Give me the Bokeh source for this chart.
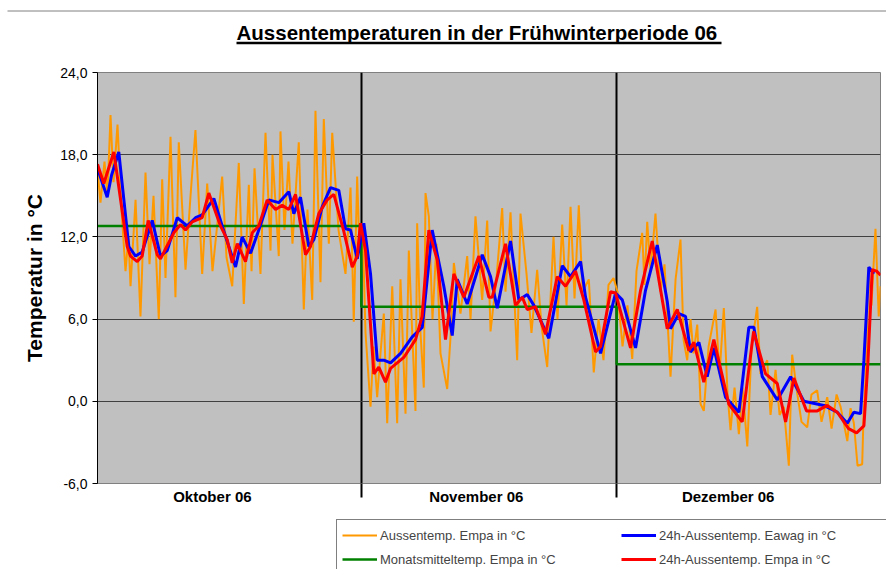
from bokeh.plotting import figure
from bokeh.layouts import column
from bokeh.models import Range1d, FixedTicker, Legend, LegendItem, Label
from bokeh.embed import file_html
from bokeh.resources import INLINE

# ---------------- data (day since 1 Oct 2006, temperature in °C) ----------------
empa_day = [0.00, 0.35, 0.82, 1.17, 1.53, 1.88, 2.35, 2.82, 3.29, 3.64,
            3.88, 4.47, 5.05, 5.64, 6.11, 6.58, 7.20, 7.60, 7.99, 8.58,
            9.16, 9.55, 10.34, 10.93, 11.51, 12.30, 12.89, 13.51, 14.65, 15.16,
            15.83, 16.60, 17.19, 17.78, 18.10, 18.45, 19.15, 19.74, 20.33, 20.56,
            21.30, 21.50, 21.97, 22.44, 22.91, 23.65, 24.24, 24.67, 25.23, 25.61,
            26.20, 26.59, 27.18, 27.58, 28.32, 29.14, 29.73, 30.11, 30.51, 30.78,
            31.14, 31.49, 32.08, 32.43, 32.86, 33.25, 33.64, 34.04, 34.63, 35.21,
            35.60, 36.19, 36.58, 37.36, 37.56, 37.95, 38.34, 38.54, 38.93, 39.36,
            39.83, 40.30, 41.09, 41.48, 41.87, 42.65, 43.44, 43.83, 44.41, 45.20,
            45.79, 46.18, 46.88, 47.55, 47.94, 48.53, 49.31, 49.70, 50.41, 50.99,
            51.66, 52.17, 52.84, 53.58, 54.05, 54.60, 55.11, 55.58, 56.05, 56.55,
            56.99, 57.73, 58.31, 58.87, 59.45, 60.04, 60.63,
            61.10, 61.69, 62.27, 62.83, 63.33, 64.00, 64.27, 64.59, 64.98, 65.56,
            66.15, 66.62, 67.33, 67.92, 68.50, 68.86, 69.29, 69.68, 70.03, 70.47,
            70.86, 71.24, 71.80, 72.62, 73.09, 73.59, 74.03, 74.38, 74.85, 75.36,
            75.79, 76.35, 76.85, 77.51, 77.90, 78.69, 79.08, 79.67, 80.14, 80.64,
            81.23, 81.62, 82.21, 82.72, 83.39, 83.89, 84.56, 85.07, 85.74, 86.25,
            86.84, 87.31, 88.10, 88.48, 88.87, 89.30, 89.85, 90.01, 90.24, 90.62,
            90.94, 91.41, 91.79, 92.00]
empa_temp = [16.9, 14.5, 17.5, 15.0, 20.9, 16.0, 20.2, 14.0, 9.5, 12.0,
             8.4, 14.7, 6.2, 16.7, 10.0, 15.0, 6.0, 16.2, 9.0, 19.3,
             7.6, 18.9, 9.6, 15.0, 19.8, 9.3, 15.9, 9.5, 16.4, 10.5,
             8.4, 17.4, 7.1, 15.8, 9.5, 17.0, 9.3, 19.6, 11.0, 18.0,
             10.6, 19.7, 12.5, 17.5, 11.5, 18.9, 6.7, 14.0, 7.4, 21.2,
             8.7, 20.6, 11.5, 19.6, 12.5, 9.3, 15.6, 5.8, 16.4, 11.0,
             13.0, 5.0, -0.4, 4.0, 0.3, 3.5, 6.4, -1.6, 8.4, -1.6,
             8.9, -0.9, 11.0, -0.7, 13.0, 5.0, 1.0, 15.2, 13.5, 6.0,
             11.5, 3.5, 0.9, 4.7, 10.1, 6.4, 10.6, 6.0, 13.5, 7.4,
             13.2, 5.1, 9.0, 14.1, 8.0, 13.8, 3.0, 13.7, 9.3, 5.0,
             9.6, 5.5, 2.5, 12.0, 6.0, 12.9, 7.0, 14.2, 7.5, 14.3,
             8.0, 8.9, 2.1, 6.0, 3.0, 8.5, 9.0,
             8.0, 4.0, 7.0, 3.1, 9.5, 12.3, 8.5, 13.1, 9.5, 13.7,
             8.0, 10.0, 1.8, 8.9, 11.8, 4.5, 3.0, 6.0, 3.5, 5.6,
             -0.2, -0.7, 4.0, 6.7, 2.0, 6.8, 0.5, -2.1, 1.0, -2.4,
             1.0, -3.3, 4.0, 6.9, 2.0, 3.0, -1.0, 2.3, -1.0, -0.4,
             -4.7, 3.4, 0.6, -1.5, -1.9, 0.5, 0.8, -1.5, 0.3, -2.0,
             0.5, -0.4, -2.9, -0.5, -1.6, -4.7, -4.6, -1.0, 1.5, 9.8,
             7.0, 12.6, 6.2, 8.4]

eawag24_day = [0, 1.14, 1.65, 2.50, 3.68, 4.47, 5.25, 6.43, 7.40, 8.19,
               9.37, 10.54, 11.52, 12.30, 13.67, 14.65, 16.22, 17.00, 17.98, 18.95,
               20.13, 21.30, 22.48, 23.07, 23.85, 24.83, 25.42, 26.40, 27.38, 28.35,
               29.14, 29.73, 30.52, 31.29, 32.08, 32.87, 33.64, 34.43, 35.61, 36.98,
               38.16, 39.33, 40.69, 41.68, 42.27, 43.44, 45.21, 46.18, 46.97, 48.53,
               49.51, 50.49, 51.27, 53.03, 54.61, 55.58, 56.76, 57.34, 59.11, 60.87,
               61.66, 63.22, 64.39, 65.77, 66.94, 67.33, 68.31, 69.09, 69.68, 70.66,
               71.64, 72.42, 73.79, 75.36, 76.53, 77.12, 78.11, 79.87, 81.44, 83.00,
               85.35, 86.92, 88.10, 88.87, 89.66, 90.05, 90.63, 91.22]
eawag24_temp = [17.0, 14.9, 16.5, 18.2, 11.3, 10.6, 10.9, 13.2, 10.6, 11.0,
                13.4, 12.8, 13.4, 13.6, 14.8, 12.8, 9.8, 12.0, 10.8, 12.5,
                14.7, 14.5, 15.3, 13.7, 14.9, 11.3, 11.8, 14.2, 15.6, 15.4,
                12.6, 12.5, 10.4, 13.0, 9.3, 3.0, 3.0, 2.8, 3.5, 4.7,
                5.4, 12.5, 8.4, 4.8, 8.9, 7.1, 10.7, 9.1, 6.8, 11.7,
                7.4, 7.8, 7.0, 4.6, 9.9, 9.1, 10.2, 7.6, 3.5, 7.9,
                7.4, 3.9, 8.1, 11.4, 7.3, 5.3, 6.4, 6.2, 3.6, 4.3,
                1.8, 3.9, 0.3, -0.8, 5.4, 5.4, 1.8, 0.1, 1.8, 0.0,
                -0.3, -0.8, -1.6, -0.8, -0.9, 3.0, 9.8, 9.3]

empa24_day = [0.0, 0.74, 1.92, 3.49, 3.88, 4.67, 5.25, 5.96, 7.02, 7.40,
              8.97, 9.75, 10.34, 11.13, 12.30, 13.08, 14.45, 15.24, 15.83, 16.42,
              17.39, 18.18, 18.95, 19.94, 20.92, 21.70, 22.48, 23.27, 24.44, 25.03,
              26.00, 26.99, 27.77, 28.94, 29.93, 30.52, 30.90, 31.49, 31.88, 32.47,
              33.05, 33.84, 34.43, 35.99, 37.37, 38.14, 38.93, 39.92, 40.89, 41.87,
              43.04, 44.81, 45.98, 46.38, 47.94, 49.12, 49.91, 50.49, 51.47, 52.64,
              54.02, 54.99, 56.17, 57.14, 58.52, 59.11, 60.28, 60.87, 62.63, 63.81,
              65.18, 66.94, 68.12, 69.48, 70.07, 71.24, 72.42, 74.18, 75.75, 77.09,
              78.50, 79.87, 80.85, 81.82, 83.31, 84.57, 85.74, 86.92, 88.25, 89.19,
              90.05, 90.52, 91.03, 91.54, 92.0]
empa24_temp = [17.3, 15.9, 18.2, 11.3, 10.6, 10.2, 10.6, 13.2, 10.7, 10.4,
               12.3, 12.9, 12.5, 13.1, 13.4, 15.2, 12.8, 11.8, 10.1, 11.5,
               10.2, 12.3, 12.8, 14.7, 14.0, 14.3, 14.0, 15.1, 10.7, 11.3,
               13.7, 14.7, 15.1, 12.4, 9.8, 10.6, 13.0, 11.0, 7.4, 2.0,
               2.5, 1.4, 2.4, 3.2, 4.5, 6.2, 12.5, 10.3, 4.5, 9.3,
               7.6, 10.6, 7.6, 7.6, 11.5, 7.0, 7.6, 6.7, 6.9, 4.9,
               9.1, 8.4, 9.5, 7.4, 3.6, 4.0, 8.0, 7.9, 3.9, 8.1,
               11.7, 5.3, 6.7, 3.7, 4.3, 1.4, 4.5, -0.2, -1.5, 5.1,
               2.0, 1.3, -1.5, 1.7, -0.7, -0.7, -0.3, -0.8, -2.0, -2.3,
               -1.8, 2.8, 9.6, 9.5, 9.2]

month_start = [0, 31, 61]
month_end = [31, 61, 92]
month_mean = [12.8, 6.9, 2.7]
month_labels = ["Oktober 06", "November 06", "Dezember 06"]
month_label_pos = [13.5, 44.5, 74.1]
month_bounds = [31, 61]
y_ticks = [-6, 0, 6, 12, 18, 24]

TITLE = "Aussentemperaturen in der Frühwinterperiode 06"
FONT = "Liberation Sans"
W = 886

# monthly mean as a step line
mean_x, mean_y = [], []
for s, e, m in zip(month_start, month_end, month_mean):
    mean_x += [s, e]
    mean_y += [m, m]

# ---------------- header strip: title with underline, chart border ----------------
head = figure(width=W, height=62, x_range=Range1d(0, W), y_range=Range1d(62, 0),
              x_axis_type=None, y_axis_type=None, output_backend="svg",
              toolbar_location=None, title=None, min_border=0, frame_align=False,
              outline_line_color=None, background_fill_color="white",
              border_fill_color="white")
head.add_layout(Label(x=236, y=32, text=TITLE, text_font=FONT, text_font_size="20.5px",
                      text_font_style="bold", text_color="black",
                      text_baseline="alphabetic", text_align="left"))
head.segment(x0=[236], y0=[42.5], x1=[721], y1=[42.5], line_color="black", line_width=2.5)
head.segment(x0=[7], y0=[10.5], x1=[W], y1=[10.5], line_color="#808080", line_width=1)

# ---------------- main chart ----------------
p = figure(width=W, height=450, x_range=Range1d(0, 92), y_range=Range1d(-6, 24),
           output_backend="svg", toolbar_location=None, title=None,
           min_border_left=97, min_border_right=6, min_border_top=10, min_border_bottom=29,
           background_fill_color="#C0C0C0", border_fill_color="white",
           outline_line_color="#808080")

yt = FixedTicker(ticks=y_ticks)
p.yaxis.ticker = yt
p.ygrid.ticker = yt
p.yaxis.major_label_overrides = {t: f"{t:.1f}".replace(".", ",") for t in y_ticks}
p.yaxis.major_label_text_font = FONT
p.yaxis.major_label_text_font_size = "14px"
p.yaxis.major_label_text_color = "black"
p.yaxis.major_tick_out = 5
p.yaxis.major_tick_in = 0
p.yaxis.major_tick_line_color = "black"
p.yaxis.minor_tick_line_color = None
p.yaxis.axis_line_color = "black"
p.yaxis.axis_label = "Temperatur in °C"
p.yaxis.axis_label_text_font = FONT
p.yaxis.axis_label_text_font_size = "21px"
p.yaxis.axis_label_text_font_style = "bold"
p.yaxis.axis_label_text_color = "black"
p.yaxis.axis_label_standoff = 11
p.ygrid.grid_line_color = "#404040"
p.ygrid.grid_line_width = 1

xt = FixedTicker(ticks=month_label_pos, minor_ticks=month_bounds)
p.xaxis.ticker = xt
p.xgrid.ticker = xt
p.xaxis.major_label_overrides = dict(zip(month_label_pos, month_labels))
p.xaxis.major_label_text_font = FONT
p.xaxis.major_label_text_font_size = "15px"
p.xaxis.major_label_text_font_style = "bold"
p.xaxis.major_label_text_color = "black"
p.xaxis.major_label_standoff = -10
p.xaxis.major_tick_line_color = None
p.xaxis.major_tick_out = 0
p.xaxis.major_tick_in = 0
p.xaxis.minor_tick_out = 14
p.xaxis.minor_tick_in = 0
p.xaxis.minor_tick_line_color = "black"
p.xaxis.minor_tick_line_width = 2
p.xaxis.axis_line_color = "#808080"
p.xgrid.grid_line_color = None
p.xgrid.minor_grid_line_color = "black"
p.xgrid.minor_grid_line_width = 2

styles = [("Aussentemp. Empa in °C", empa_day, empa_temp, "#FF9900", 2),
          ("Monatsmitteltemp. Empa in °C", mean_x, mean_y, "#008000", 2.5),
          ("24h-Aussentemp. Eawag in °C", eawag24_day, eawag24_temp, "#0000FF", 3),
          ("24h-Aussentemp. Empa in °C", empa24_day, empa24_temp, "#FF0000", 3)]
for _, xs, ys, col, lw in styles:
    p.line(xs, ys, line_color=col, line_width=lw)

# ---------------- legend strip ----------------
foot = figure(width=W, height=57, x_range=Range1d(-2, -1), y_range=Range1d(-6, 24),
              x_axis_type=None, y_axis_type=None, output_backend="svg",
              toolbar_location=None, title=None, min_border=0, frame_align=False,
              outline_line_color=None, background_fill_color="white",
              border_fill_color="white")
items = []
for lab, xs, ys, col, lw in styles:
    r = foot.line(xs, ys, line_color=col, line_width=lw)   # lies outside the view
    items.append(LegendItem(label=lab, renderers=[r]))
legend = Legend(items=items, location=(336, -6), orientation="vertical", ncols=2,
                glyph_width=35, glyph_height=20, label_height=20, label_width=237,
                label_standoff=3, spacing=4, padding=5, margin=0,
                label_text_font=FONT, label_text_font_size="13px",
                border_line_color="black", border_line_width=1,
                background_fill_color="white", background_fill_alpha=1)
foot.add_layout(legend)

layout = column(head, p, foot, spacing=0)
open("out.html", "w").write(file_html(layout, INLINE))
